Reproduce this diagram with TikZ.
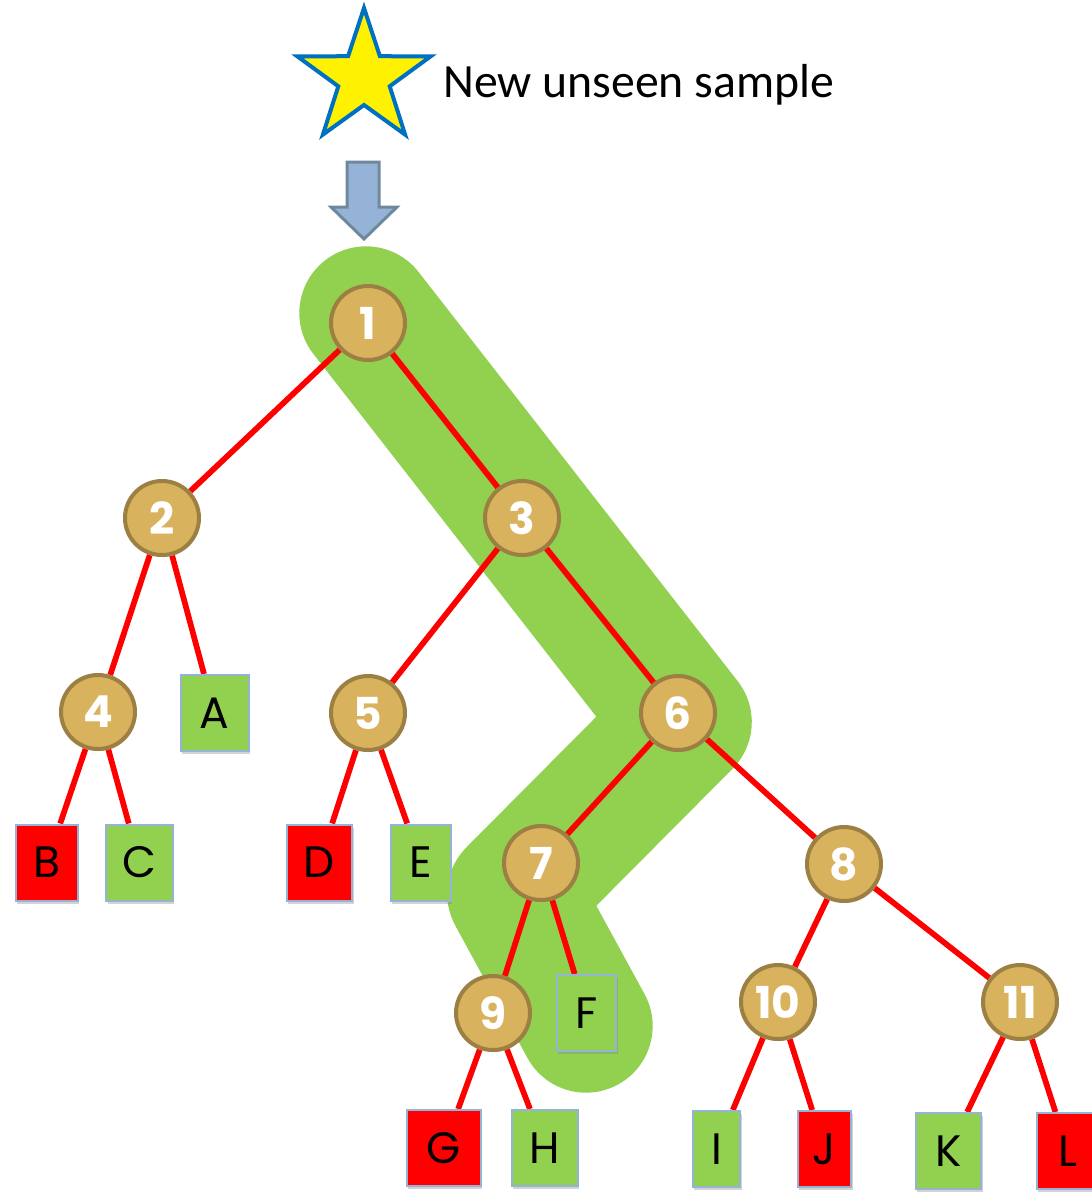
\documentclass[tikz,border=0pt]{standalone}
\usepackage{fontspec}
\setmainfont{Carlito}
\newfontfamily\geofont{Poppins}
\usetikzlibrary{shadows}
\pgfdeclarelayer{background}
\pgfsetlayers{background,main}
\definecolor{bandgreen}{HTML}{92D050}
\definecolor{leafgreen}{HTML}{92D050}
\definecolor{leafred}{HTML}{FF0000}
\definecolor{leafborder}{HTML}{95B3D7}
\definecolor{circfill}{HTML}{D9B25E}
\definecolor{circborder}{HTML}{9C7F42}
\definecolor{arrowfill}{HTML}{95B3D7}
\definecolor{arrowborder}{HTML}{6F889E}
\definecolor{starborder}{HTML}{0070C0}
\tikzset{
  decision/.style={circle, fill=circfill, draw=circborder, line width=3pt,
    minimum size=55.5pt, inner sep=0pt, text=white,
    font=\geofont\bfseries\fontsize{33}{33}\selectfont,
    drop shadow={opacity=0.3, shadow xshift=0.8pt, shadow yshift=-1.5pt}},
  leaf/.style={rectangle, draw=leafborder, line width=1.5pt,
    minimum height=57pt, inner sep=0pt, text=black,
    font=\geofont\fontsize{33}{33}\selectfont,
    drop shadow={opacity=0.35, shadow xshift=1pt, shadow yshift=-2.5pt}},
  goodleaf/.style={leaf, fill=leafgreen},
  badleaf/.style={leaf, fill=leafred},
  branch/.style={draw=red, line width=4.3pt},
  pathband/.style={draw=bandgreen, line width=100pt, line cap=round, line join=round}
}
\begin{document}
\begin{tikzpicture}[x=0.75pt, y=-0.75pt]
\useasboundingbox (0,0) rectangle (1092,1193);
% star
\draw[fill=yellow, draw=starborder, line width=3pt, line join=miter]
  (364,8) -- (379.9,56.2) -- (430.6,56.4) -- (389.7,86.3) -- (405.1,134.6)
  -- (364,105) -- (322.9,134.6) -- (338.3,86.3) -- (297.4,56.4) -- (348.1,56.2) -- cycle;
\node[anchor=base west, inner sep=0pt, font=\fontsize{35.8}{38}\selectfont] (label) at (443,97) {New unseen sample};
% block arrow
\draw[fill=arrowfill, draw=arrowborder, line width=2.25pt, line join=miter]
  (347,162) -- (379,162) -- (379,207) -- (397,207) -- (364,239) -- (331,207) -- (347,207) -- cycle;
% decision nodes
\node[decision] (n1) at (368,323) {1};
\node[decision] (n2) at (162,518) {2};
\node[decision] (n3) at (522,518) {3};
\node[decision] (n4) at (98,712) {4};
\node[decision] (n5) at (368,713) {5};
\node[decision] (n6) at (678,713) {6};
\node[decision] (n7) at (541,863) {7};
\node[decision] (n8) at (844,864) {8};
\node[decision] (n9) at (493,1013) {9};
\node[decision] (n10) at (778,1002) {10};
\node[decision] (n11) at (1020,1002) {11};
% leaves
\node[goodleaf, minimum width=51pt] (A) at (214.5,713) {A};
\node[badleaf, minimum width=46.5pt] (B) at (47,862.5) {B};
\node[goodleaf, minimum width=50pt] (C) at (139.5,862.5) {C};
\node[badleaf, minimum width=49pt] (D) at (319.5,862.5) {D};
\node[goodleaf, minimum width=45pt] (E) at (421,862.5) {E};
\node[goodleaf, minimum width=44.5pt] (F) at (586.5,1013) {F};
\node[badleaf, minimum width=55.5pt] (G) at (444,1148) {G};
\node[goodleaf, minimum width=49.5pt] (H) at (545,1148) {H};
\node[goodleaf, minimum width=35.5pt] (I) at (716.5,1149) {I};
\node[badleaf, minimum width=40pt] (J) at (824.5,1149) {J};
\node[goodleaf, minimum width=49pt] (K) at (948.5,1151) {K};
\node[badleaf, minimum width=47pt] (L) at (1068,1151) {L};
\begin{pgfonlayer}{background}
  \coordinate (p1) at (366,313);
  \coordinate (p2) at (685,722);
  \coordinate (p3) at (514,894);
  \coordinate (p4) at (586,1026);
  \draw[pathband] (p1) -- (p2) -- (p3) -- (p4);
  \draw[branch] (n1) -- (n2);
  \draw[branch] (n1) -- (n3);
  \draw[branch] (n2) -- (n4);
  \draw[branch] (n2) -- (A);
  \draw[branch] (n3) -- (n5);
  \draw[branch] (n3) -- (n6);
  \draw[branch] (n4) -- (B);
  \draw[branch] (n4) -- (C);
  \draw[branch] (n5) -- (D);
  \draw[branch] (n5) -- (E);
  \draw[branch] (n6) -- (n7);
  \draw[branch] (n6) -- (n8);
  \draw[branch] (n7) -- (n9);
  \draw[branch] (n7) -- (F);
  \draw[branch] (n9) -- (G);
  \draw[branch] (n9) -- (H);
  \draw[branch] (n8) -- (n10);
  \draw[branch] (n8) -- (n11);
  \draw[branch] (n10) -- (I);
  \draw[branch] (n10) -- (J);
  \draw[branch] (n11) -- (K);
  \draw[branch] (n11) -- (L);
\end{pgfonlayer}
\end{tikzpicture}
\end{document}
